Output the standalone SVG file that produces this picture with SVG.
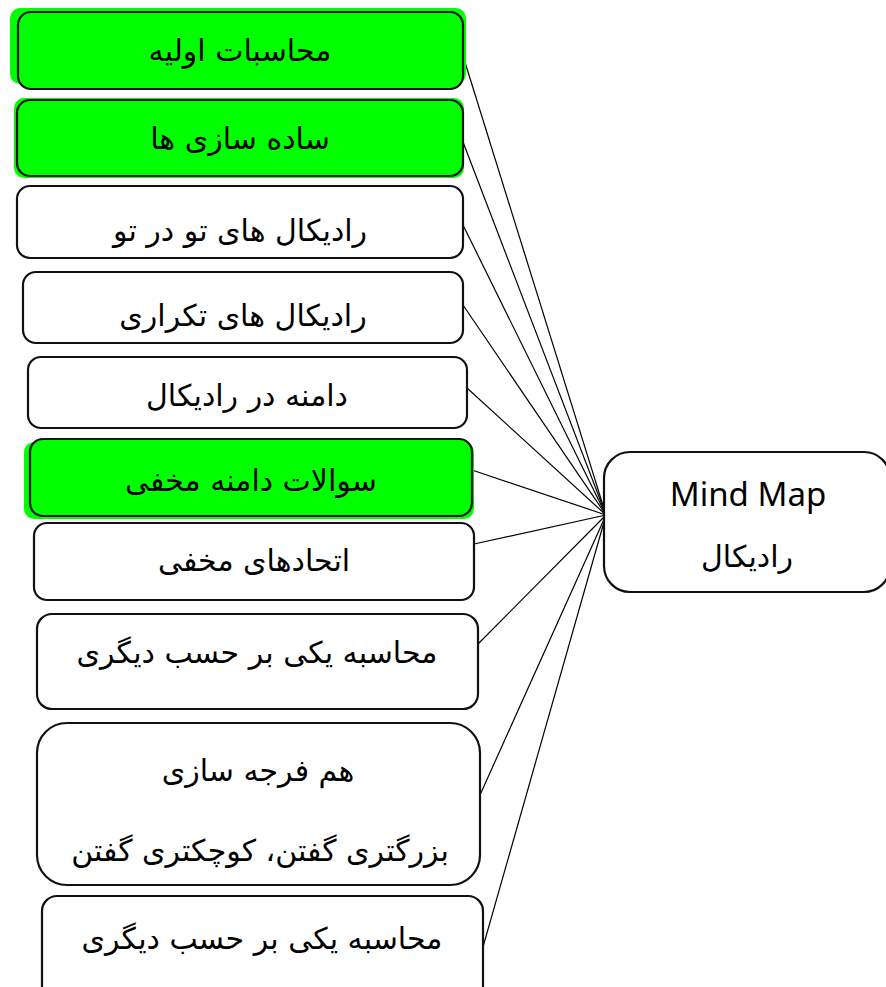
<svg xmlns="http://www.w3.org/2000/svg" width="886" height="987" viewBox="0 0 886 987">
<style>
.box{fill:#fff;stroke:#111;stroke-width:2.2}
.hl{fill:#00ff00;stroke:#111;stroke-width:2.2}
.glow{fill:#00ff00;stroke:none}
.t{font-family:"DejaVu Sans","Noto Sans",sans-serif;font-size:30px;fill:#000;text-anchor:middle}
.e{font-family:"Noto Sans","Open Sans",sans-serif;font-size:33px;fill:#000;text-anchor:middle}
.c{stroke:#000;stroke-width:1.2;fill:none}
</style>
<rect width="886" height="987" fill="#fff"/>
<g id="connectors">
<line class="c" x1="464" y1="59" x2="606" y2="515"/>
<line class="c" x1="463" y1="142" x2="606" y2="515"/>
<line class="c" x1="463" y1="225" x2="606" y2="515"/>
<line class="c" x1="463" y1="305" x2="606" y2="515"/>
<line class="c" x1="467" y1="388" x2="606" y2="515"/>
<line class="c" x1="472" y1="470" x2="606" y2="515"/>
<line class="c" x1="474" y1="544" x2="606" y2="515"/>
<line class="c" x1="478" y1="644" x2="606" y2="515"/>
<line class="c" x1="480" y1="795" x2="606" y2="515"/>
<line class="c" x1="483" y1="947" x2="606" y2="515"/>
</g>
<g id="n1">
<rect class="glow" x="10" y="8" width="456" height="76" rx="10"/>
<rect class="hl" x="18" y="12" width="445" height="77" rx="13"/>
<text class="t" x="240" y="61">محاسبات اولیه</text>
</g>
<g id="n2">
<rect class="glow" x="14" y="98" width="450" height="80" rx="10"/>
<rect class="hl" x="17" y="100" width="446" height="76" rx="13"/>
<text class="t" x="240" y="149">ساده سازی ها</text>
</g>
<g id="n3">
<rect class="box" x="17" y="186" width="446" height="72" rx="13"/>
<text class="t" x="240" y="241">رادیکال های تو در تو</text>
</g>
<g id="n4">
<rect class="box" x="23" y="272" width="440" height="71" rx="13"/>
<text class="t" x="243" y="326">رادیکال های تکراری</text>
</g>
<g id="n5">
<rect class="box" x="28" y="357" width="439" height="71" rx="13"/>
<text class="t" x="247" y="406">دامنه در رادیکال</text>
</g>
<g id="n6">
<rect class="glow" x="24" y="442" width="450" height="77" rx="10"/>
<rect class="hl" x="30" y="439" width="442" height="77" rx="13"/>
<text class="t" x="251" y="491">سوالات دامنه مخفی</text>
</g>
<g id="n7">
<rect class="box" x="34" y="523" width="440" height="77" rx="13"/>
<text class="t" x="254" y="571">اتحادهای مخفی</text>
</g>
<g id="n8">
<rect class="box" x="37" y="614" width="441" height="95" rx="15"/>
<text class="t" x="257" y="663">محاسبه یکی بر حسب دیگری</text>
</g>
<g id="n9">
<rect class="box" x="37" y="723" width="443" height="162" rx="30"/>
<text class="t" x="258" y="781">هم فرجه سازی</text>
<text class="t" x="260" y="861">بزرگتری گفتن، کوچکتری گفتن</text>
</g>
<g id="n10">
<rect class="box" x="42" y="896" width="441" height="110" rx="15"/>
<text class="t" x="262" y="949">محاسبه یکی بر حسب دیگری</text>
</g>
<g id="center">
<rect class="box" x="604" y="452" width="286" height="140" rx="26"/>
<text class="e" x="748" y="506">Mind Map</text>
<text class="t" x="747" y="567">رادیکال</text>
</g>
</svg>
